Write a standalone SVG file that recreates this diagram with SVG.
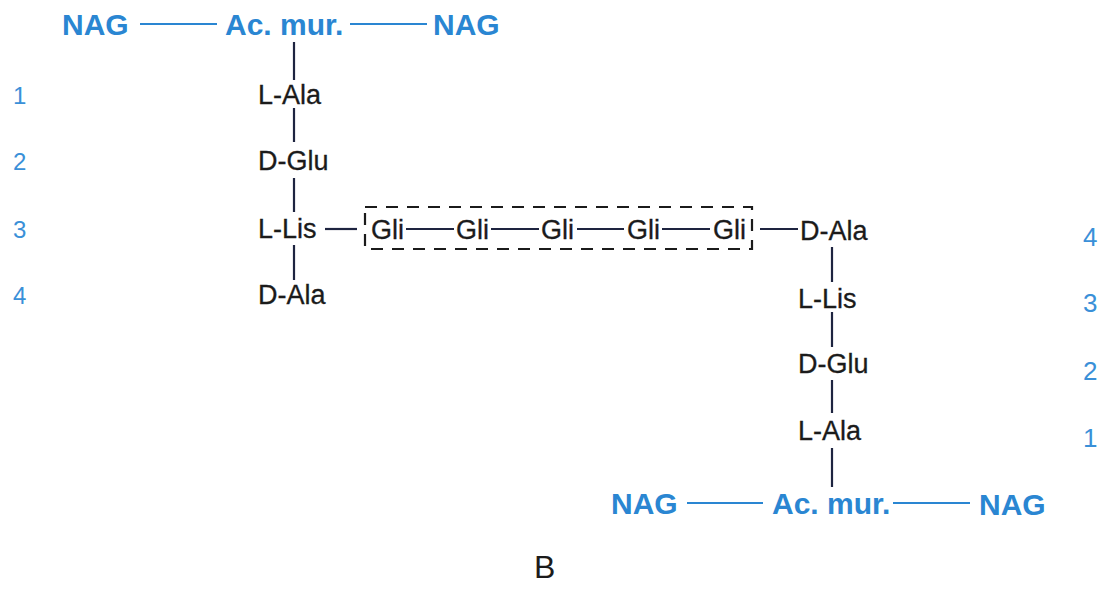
<svg xmlns="http://www.w3.org/2000/svg" width="1106" height="589" viewBox="0 0 1106 589">
  <style>
    .sugar { font-family: "Liberation Sans", Arial, sans-serif; font-size: 30px; font-weight: bold; fill: #2a86d2; }
    .aa { font-family: "Liberation Sans", Arial, sans-serif; font-size: 27px; fill: #1b1b1b; stroke: #1b1b1b; stroke-width: 0.3; }
    .num { font-family: "Liberation Sans", Arial, sans-serif; font-size: 24px; fill: #3a90d8; }
    .num-r { font-size: 26px; }
    .label { font-family: "Liberation Sans", Arial, sans-serif; font-size: 32px; fill: #1b1b1b; }
    .bond { stroke: #1e2440; stroke-width: 2.2; fill: none; }
    .glyco { stroke: #2a86d2; stroke-width: 2; fill: none; }
    .bridge-box { stroke: #1b1b1b; stroke-width: 2.2; fill: none; stroke-dasharray: 12 9; }
  </style>
  <rect width="1106" height="589" fill="#ffffff"/>

  <!-- bonds: glycan backbone (blue) and peptide bonds (dark) -->
  <g id="connectors">
    <line class="glyco" x1="140" y1="24" x2="217" y2="24"/>
    <line class="glyco" x1="350" y1="24" x2="427" y2="24"/>
    <line class="glyco" x1="687" y1="503" x2="763" y2="503"/>
    <line class="glyco" x1="893" y1="503" x2="970" y2="503"/>

    <line class="bond" x1="294" y1="42" x2="294" y2="80"/>
    <line class="bond" x1="294" y1="108" x2="294" y2="142"/>
    <line class="bond" x1="294" y1="178" x2="294" y2="212"/>
    <line class="bond" x1="294" y1="245" x2="294" y2="280"/>

    <line class="bond" x1="325" y1="229" x2="357" y2="229"/>
    <line class="bond" x1="406" y1="229" x2="454" y2="229"/>
    <line class="bond" x1="491" y1="229" x2="539" y2="229"/>
    <line class="bond" x1="577" y1="229" x2="624" y2="229"/>
    <line class="bond" x1="662" y1="229" x2="710" y2="229"/>
    <line class="bond" x1="760" y1="229" x2="798" y2="229"/>

    <line class="bond" x1="832" y1="247" x2="832" y2="282"/>
    <line class="bond" x1="832" y1="312" x2="832" y2="347"/>
    <line class="bond" x1="832" y1="380" x2="832" y2="413"/>
    <line class="bond" x1="832" y1="448" x2="832" y2="487"/>
  </g>

  <!-- upper glycan strand -->
  <g id="nag-top-left"><text class="sugar" x="62" y="35">NAG</text></g>
  <g id="mur-top"><text class="sugar" x="225" y="35">Ac. mur.</text></g>
  <g id="nag-top-right"><text class="sugar" x="433" y="35">NAG</text></g>

  <!-- upper tetrapeptide -->
  <g id="l-ala-1"><text class="aa" x="258" y="104">L-Ala</text></g>
  <g id="d-glu-1"><text class="aa" x="258" y="170">D-Glu</text></g>
  <g id="l-lis-1"><text class="aa" x="258" y="238">L-Lis</text></g>
  <g id="d-ala-1"><text class="aa" x="258" y="304">D-Ala</text></g>

  <!-- pentaglycine bridge -->
  <g id="gly-bridge">
    <rect class="bridge-box" x="365" y="207" width="387" height="42"/>
    <text class="aa" x="371" y="239">Gli</text>
    <text class="aa" x="456" y="239">Gli</text>
    <text class="aa" x="541" y="239">Gli</text>
    <text class="aa" x="627" y="239">Gli</text>
    <text class="aa" x="713" y="239">Gli</text>
  </g>

  <!-- lower tetrapeptide -->
  <g id="d-ala-2"><text class="aa" x="800" y="240">D-Ala</text></g>
  <g id="l-lis-2"><text class="aa" x="798" y="308">L-Lis</text></g>
  <g id="d-glu-2"><text class="aa" x="798" y="373">D-Glu</text></g>
  <g id="l-ala-2"><text class="aa" x="798" y="440">L-Ala</text></g>

  <!-- lower glycan strand -->
  <g id="nag-bottom-left"><text class="sugar" x="611" y="514">NAG</text></g>
  <g id="mur-bottom"><text class="sugar" x="772" y="514">Ac. mur.</text></g>
  <g id="nag-bottom-right"><text class="sugar" x="979" y="515">NAG</text></g>

  <!-- residue positions -->
  <g id="positions-left">
    <text class="num" x="13" y="104">1</text>
    <text class="num" x="13" y="170">2</text>
    <text class="num" x="13" y="238">3</text>
    <text class="num" x="13" y="304">4</text>
  </g>
  <g id="positions-right">
    <text class="num num-r" x="1083" y="246">4</text>
    <text class="num num-r" x="1083" y="312">3</text>
    <text class="num num-r" x="1083" y="380">2</text>
    <text class="num num-r" x="1083" y="447">1</text>
  </g>

  <g id="panel-label"><text class="label" x="534" y="578">B</text></g>
</svg>
